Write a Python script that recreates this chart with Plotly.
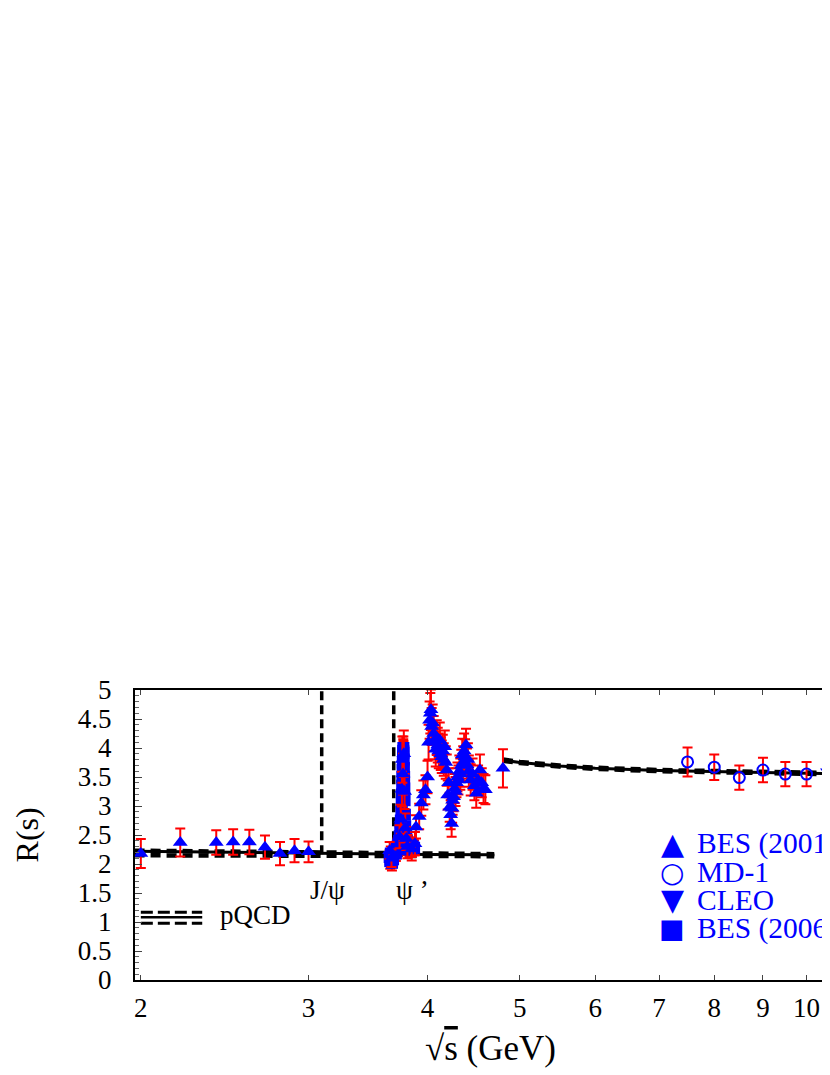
import numpy as np
import plotly.graph_objects as go

# ---------------- data ----------------
# BES (2001) R scan
bes2001_E = [2.0, 2.2, 2.4, 2.5, 2.6, 2.7, 2.8, 2.9, 3.0,
             3.650, 3.666, 3.738, 3.750, 3.760, 3.764, 3.770, 3.777, 3.784, 3.790,
             3.800, 3.810, 3.850, 3.880, 3.890, 3.920, 3.940, 3.960, 3.980, 4.000,
             4.010, 4.020, 4.027, 4.033, 4.040, 4.050, 4.060, 4.070, 4.080, 4.090,
             4.100, 4.110, 4.120, 4.130, 4.140, 4.150, 4.160, 4.170, 4.180, 4.190,
             4.200, 4.210, 4.220, 4.230, 4.240, 4.245, 4.250, 4.260, 4.270, 4.280,
             4.290, 4.300, 4.310, 4.320, 4.330, 4.340, 4.350, 4.360, 4.370, 4.380,
             4.390, 4.400, 4.410, 4.420, 4.440, 4.460, 4.480, 4.500, 4.520, 4.540,
             4.560, 4.580, 4.600, 4.800]
bes2001_R = [2.18, 2.37, 2.37, 2.38, 2.38, 2.29, 2.18, 2.23, 2.21,
             2.23, 2.10, 2.47, 2.77, 3.29, 3.80, 3.55, 3.90, 3.25, 2.62,
             2.44, 2.30, 2.26, 2.35, 2.64, 2.82, 3.05, 3.19, 3.28, 3.50,
             4.10, 4.48, 4.60, 4.66, 4.37, 4.43, 4.25, 4.10, 3.98, 4.18,
             4.05, 3.95, 4.14, 3.90, 3.85, 3.95, 3.80, 4.02, 3.75, 3.62,
             3.19, 3.40, 2.98, 2.85, 2.70, 2.96, 3.10, 3.16, 3.30, 3.25,
             3.40, 3.50, 3.45, 3.60, 3.55, 3.70, 3.88, 3.75, 3.95, 3.85,
             4.05, 3.71, 3.80, 3.60, 3.45, 3.55, 3.35, 3.22, 3.45, 3.62,
             3.40, 3.30, 3.28, 3.65]
bes2001_err = [0.25, 0.24, 0.21, 0.22, 0.21, 0.20, 0.20, 0.20, 0.18,
               0.15, 0.15, 0.20, 0.25, 0.30, 0.40, 0.35, 0.40, 0.30, 0.25,
               0.20, 0.20, 0.20, 0.20, 0.20, 0.22, 0.22, 0.25, 0.25, 0.28,
               0.30, 0.32, 0.35, 0.35, 0.32, 0.32, 0.30, 0.30, 0.30, 0.30,
               0.30, 0.30, 0.30, 0.28, 0.28, 0.28, 0.28, 0.28, 0.28, 0.27,
               0.25, 0.25, 0.25, 0.25, 0.23, 0.25, 0.25, 0.25, 0.25, 0.25,
               0.25, 0.25, 0.25, 0.27, 0.27, 0.27, 0.28, 0.28, 0.30, 0.30,
               0.28, 0.28, 0.28, 0.27, 0.27, 0.27, 0.25, 0.25, 0.25, 0.27,
               0.25, 0.25, 0.25, 0.33]

# BES (2006) fine scan around psi(3770)
bes2006_E = [3.650, 3.655, 3.660, 3.665, 3.670, 3.675, 3.680, 3.690, 3.700, 3.705,
             3.710, 3.715, 3.720, 3.725, 3.730, 3.735, 3.740, 3.745, 3.750, 3.755,
             3.758, 3.760, 3.762, 3.764, 3.766, 3.768, 3.770, 3.772, 3.773, 3.774,
             3.776, 3.778, 3.780, 3.782, 3.784, 3.787, 3.790, 3.795, 3.800, 3.805,
             3.810, 3.815, 3.820, 3.830, 3.840, 3.850, 3.860, 3.872]
bes2006_R = [2.12, 2.05, 2.18, 2.10, 2.02, 2.15, 2.08, 2.20, 2.25, 2.18,
             2.22, 2.28, 2.30, 2.26, 2.35, 2.40, 2.48, 2.60, 2.75, 2.90,
             3.05, 3.20, 3.35, 3.50, 3.62, 3.75, 3.85, 3.95, 4.00, 3.92,
             3.80, 3.65, 3.50, 3.30, 3.10, 2.85, 2.65, 2.50, 2.45, 2.40,
             2.35, 2.30, 2.28, 2.25, 2.30, 2.25, 2.30, 2.28]
bes2006_err = [0.12, 0.13, 0.12, 0.14, 0.13, 0.12, 0.13, 0.12, 0.12, 0.13,
               0.12, 0.13, 0.14, 0.12, 0.13, 0.14, 0.15, 0.15, 0.16, 0.17,
               0.17, 0.18, 0.18, 0.18, 0.19, 0.19, 0.19, 0.20, 0.20, 0.20,
               0.19, 0.19, 0.18, 0.18, 0.18, 0.17, 0.16, 0.15, 0.15, 0.14,
               0.14, 0.13, 0.13, 0.13, 0.13, 0.13, 0.13, 0.13]

# MD-1
md1_E = [7.5, 8.0, 8.5, 9.0, 9.5, 10.0]
md1_R = [3.76, 3.67, 3.49, 3.62, 3.55, 3.55]
md1_err = [0.25, 0.22, 0.21, 0.21, 0.21, 0.21]

# CLEO
cleo_E = [10.52]
cleo_R = [3.59]
cleo_err = [0.07]

# pQCD curves (central and band edges)
pqcd_lo_E = [1.97, 2.5, 3.0, 3.5, 4.0, 4.7]
pqcd_lo_mid = [2.22, 2.20, 2.18, 2.17, 2.165, 2.16]
pqcd_lo_up = [2.23, 2.21, 2.19, 2.18, 2.175, 2.17]
pqcd_lo_dn = [2.15, 2.145, 2.14, 2.14, 2.135, 2.135]

pqcd_hi_E = [4.8, 5.0, 5.5, 6.0, 7.0, 8.0, 9.0, 10.0, 10.9]
pqcd_hi_mid = [3.79, 3.75, 3.69, 3.65, 3.61, 3.59, 3.57, 3.56, 3.555]
pqcd_hi_up = [3.80, 3.76, 3.70, 3.66, 3.62, 3.60, 3.58, 3.57, 3.565]
pqcd_hi_dn = [3.78, 3.74, 3.68, 3.64, 3.60, 3.58, 3.56, 3.55, 3.545]

# resonances
res_names = ["J/\u03c8", "\u03c8 \u2019"]
res_mass = [3.097, 3.686]
res_line_y = [2.17, 5.0]

# pQCD key
key_E = [2.0, 2.32]
key_up, key_mid, key_dn = 1.17, 1.08, 0.98

x_ticks = [2, 3, 4, 5, 6, 7, 8, 9, 10]
x_range = [1.972, 10.79]
y_range = [0, 5]

BLUE = "#0000ff"
RED = "#ff0000"
FONT = "Liberation Serif"

fig = go.Figure()

# pQCD lines
for E, up, mid, dn in [(pqcd_lo_E, pqcd_lo_up, pqcd_lo_mid, pqcd_lo_dn),
                       (pqcd_hi_E, pqcd_hi_up, pqcd_hi_mid, pqcd_hi_dn)]:
    fig.add_trace(go.Scatter(x=E, y=dn, mode="lines", showlegend=False, hoverinfo="skip",
                             line=dict(color="black", width=4.5, dash="10px,6px")))
    fig.add_trace(go.Scatter(x=E, y=up, mode="lines", showlegend=False, hoverinfo="skip",
                             line=dict(color="black", width=4.5, dash="10px,6px")))
    fig.add_trace(go.Scatter(x=E, y=mid, mode="lines", showlegend=False, hoverinfo="skip",
                             line=dict(color="black", width=3)))

# resonance markers
for m in res_mass:
    fig.add_trace(go.Scatter(x=[m, m], y=res_line_y, mode="lines", showlegend=False,
                             hoverinfo="skip",
                             line=dict(color="black", width=3.5, dash="9px,5px")))

# pQCD key lines
fig.add_trace(go.Scatter(x=key_E, y=[key_up, key_up], mode="lines", showlegend=False,
                         line=dict(color="black", width=3, dash="12px,5px")))
fig.add_trace(go.Scatter(x=key_E, y=[key_mid, key_mid], mode="lines", showlegend=False,
                         line=dict(color="black", width=2.5)))
fig.add_trace(go.Scatter(x=key_E, y=[key_dn, key_dn], mode="lines", showlegend=False,
                         line=dict(color="black", width=3, dash="12px,5px")))

err_style = dict(type="data", color=RED, thickness=2, width=5)

fig.add_trace(go.Scatter(name="BES (2006)", x=bes2006_E, y=bes2006_R, mode="markers",
                         showlegend=False,
                         marker=dict(symbol="square", size=12, color=BLUE),
                         error_y=dict(array=bes2006_err, **err_style)))
fig.add_trace(go.Scatter(name="BES (2001)", x=bes2001_E, y=bes2001_R, mode="markers",
                         showlegend=False,
                         marker=dict(symbol="triangle-up", size=13, color=BLUE),
                         error_y=dict(array=bes2001_err, **err_style)))
fig.add_trace(go.Scatter(name="MD-1", x=md1_E, y=md1_R, mode="markers",
                         showlegend=False,
                         marker=dict(symbol="circle-open", size=11, color=BLUE,
                                     line=dict(width=2, color=BLUE)),
                         error_y=dict(array=md1_err, **err_style)))
fig.add_trace(go.Scatter(name="CLEO", x=cleo_E, y=cleo_R, mode="markers",
                         showlegend=False,
                         marker=dict(symbol="triangle-down", size=13, color=BLUE),
                         error_y=dict(array=cleo_err, **err_style)))

annotations = []
# resonance labels
for name, m, dx in zip(res_names, res_mass, [0.045, 0.17]):
    annotations.append(dict(x=np.log10(m + dx), y=1.55, xref="x", yref="y", text=name,
                            showarrow=False, xanchor="center", yanchor="middle",
                            font=dict(family=FONT, size=27, color="black")))
annotations.append(dict(x=np.log10(2.41), y=1.12, xref="x", yref="y", text="pQCD",
                        xanchor="left", yanchor="middle", showarrow=False,
                        font=dict(family=FONT, size=27, color="black")))

# legend (manual)
leg_labels = ["BES (2001)", "MD-1", "CLEO", "BES (2006)"]
leg_glyphs = ["\u25b2", "\u25cb", "\u25bc", "\u25a0"]
leg_glyph_size = [30, 28, 30, 27]
leg_rows_y = [0.472, 0.372, 0.276, 0.179]
for lab, gl, gs, yy in zip(leg_labels, leg_glyphs, leg_glyph_size, leg_rows_y):
    annotations.append(dict(x=0.7639, y=yy, xref="paper", yref="paper", text=gl,
                            showarrow=False, xanchor="center", yanchor="middle",
                            font=dict(family="DejaVu Sans", size=gs, color=BLUE)))
    annotations.append(dict(x=0.7966, y=yy, xref="paper", yref="paper", text=lab,
                            showarrow=False, xanchor="left", yanchor="middle",
                            font=dict(family=FONT, size=29.5, color=BLUE)))

# axis titles
annotations.append(dict(x=-0.153, y=0.5, xref="paper", yref="paper", text="R(s)",
                        textangle=-90, showarrow=False, xanchor="center", yanchor="middle",
                        font=dict(family=FONT, size=32, color="black")))
annotations.append(dict(x=0.505, y=-0.2345, xref="paper", yref="paper",
                        text="\u221a<span style='text-decoration:overline'>s</span> (GeV)",
                        showarrow=False, xanchor="center", yanchor="middle",
                        font=dict(family=FONT, size=35, color="black")))

# note: the page body has an 8px margin, so figure margins are offset by 8px
fig.update_layout(
    width=830, height=1075,
    margin=dict(l=127, r=0, t=682, b=103, autoexpand=False),
    paper_bgcolor="white", plot_bgcolor="white",
    showlegend=False,
    annotations=annotations,
    font=dict(family=FONT, size=27, color="black"),
)
fig.update_xaxes(type="log", range=[np.log10(x_range[0]), np.log10(x_range[1])],
                 tickvals=x_ticks, ticktext=[str(t) for t in x_ticks],
                 ticks="inside", ticklen=5, tickwidth=1, tickcolor="#444",
                 showline=True, linewidth=2, linecolor="black", mirror="allticks",
                 showgrid=False, zeroline=False, ticklabelstandoff=3,
                 tickfont=dict(family=FONT, size=27, color="black"))
fig.update_yaxes(range=y_range, dtick=0.5, ticks="inside", ticklen=7, tickwidth=1,
                 tickcolor="#444", showline=True, linewidth=2, linecolor="black",
                 showgrid=False, zeroline=False, ticklabelstandoff=16,
                 minor=dict(dtick=0.1, ticks="inside", ticklen=4, tickcolor="#666",
                            showgrid=False),
                 tickfont=dict(family=FONT, size=27, color="black"))

fig.write_html("out.html")
